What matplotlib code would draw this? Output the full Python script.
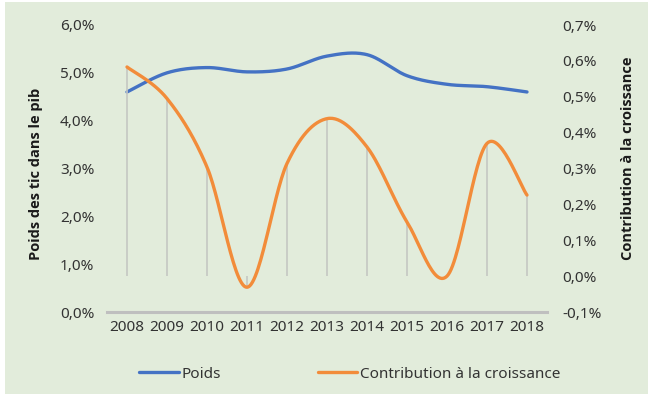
import numpy as np
import matplotlib.pyplot as plt
from matplotlib.ticker import FuncFormatter
from matplotlib.patches import Rectangle

plt.rcParams['font.family'] = ['Noto Sans', 'DejaVu Sans']

years = ['2008', '2009', '2010', '2011', '2012', '2013', '2014', '2015', '2016', '2017', '2018']
poids = [4.60, 5.00, 5.11, 5.02, 5.08, 5.35, 5.38, 4.94, 4.76, 4.71, 4.60]
contribution = [0.583, 0.495, 0.304, -0.031, 0.314, 0.439, 0.360, 0.151, 0.0, 0.370, 0.226]

BLUE = '#4472C4'
ORANGE = '#F28C3A'
BG = '#E2ECDB'


def smooth(x, y, n=30):
    # Catmull-Rom style curve through every point (like a spreadsheet "smoothed line")
    x = np.asarray(x, float)
    y = np.asarray(y, float)
    px = np.concatenate([[x[0]], x, [x[-1]]])
    py = np.concatenate([[y[0]], y, [y[-1]]])
    xs, ys = [], []
    t = np.linspace(0, 1, n)
    for i in range(1, len(px) - 2):
        p0, p1, p2, p3 = [np.array([px[j], py[j]]) for j in (i - 1, i, i + 1, i + 2)]
        c1 = p1 + (p2 - p0) / 6
        c2 = p2 - (p3 - p1) / 6
        b = ((1 - t) ** 3)[:, None] * p1 + (3 * (1 - t) ** 2 * t)[:, None] * c1 \
            + (3 * (1 - t) * t ** 2)[:, None] * c2 + (t ** 3)[:, None] * p2
        xs.append(b[:, 0])
        ys.append(b[:, 1])
    return np.concatenate(xs), np.concatenate(ys)


fig = plt.figure(figsize=(6.51, 3.94), dpi=100, facecolor='white')
fig.patches.append(Rectangle((5 / 651, 0), 643 / 651, 392 / 394, transform=fig.transFigure,
                             facecolor=BG, edgecolor='none', zorder=-10))

ax = fig.add_axes([107 / 651, 1 - 312 / 394, 440 / 651, 287 / 394])
ax2 = ax.twinx()
for a in (ax, ax2):
    a.set_facecolor('none')
    for s in a.spines.values():
        s.set_visible(False)

x = np.arange(len(years))

# drop lines from the contribution points to zero
ax2.vlines(x, 0, contribution, color='#C4C7C2', lw=1.2, zorder=1)

sx, sy = smooth(x, poids)
ax.plot(sx, sy, color=BLUE, lw=2.4, solid_capstyle='round', label='Poids')
sx, sy = smooth(x, contribution)
ax2.plot(sx, sy, color=ORANGE, lw=2.4, solid_capstyle='round', label='Contribution à la croissance')

ax.set_xlim(-0.5, len(years) - 0.5)
ax.set_ylim(0, 6)
ax2.set_ylim(-0.1, 0.7)
ax.set_yticks(np.arange(0, 6.1, 1))
ax2.set_yticks(np.arange(-0.1, 0.71, 0.1))
ax.set_xticks(x)
ax.set_xticklabels(years)

ax.yaxis.set_major_formatter(FuncFormatter(lambda v, p: f'{v:.1f}%'.replace('.', ',')))
ax2.yaxis.set_major_formatter(FuncFormatter(lambda v, p: f'{v:.1f}%'.replace('.', ',').replace('-0,0', '0,0')))

ax.axhline(0, color='#BFBFBF', lw=2.2, clip_on=False, zorder=0)

for a in (ax, ax2):
    a.tick_params(axis='both', length=0, labelsize=11, colors='#333333')
ax.tick_params(axis='y', pad=9)
ax2.tick_params(axis='y', pad=11)
ax.tick_params(axis='x', pad=6)

title_font = dict(rotation=90, fontsize=10.5, fontweight='bold', color='#1a1a1a',
                  ha='center', va='center', family=['Open Sans', 'DejaVu Sans'])
fig.text(36 / 651, 1 - 174 / 394, 'Poids des tic dans le pib', **title_font)
fig.text(628 / 651, 1 - 158 / 394, 'Contribution à la croissance', **title_font)

h1, l1 = ax.get_legend_handles_labels()
h2, l2 = ax2.get_legend_handles_labels()
fig.legend(h1 + h2, l1 + l2, loc='center', bbox_to_anchor=(350 / 651, 1 - 374 / 394), ncol=2,
           frameon=False, fontsize=11, handlelength=2.6, handletextpad=0.2, columnspacing=6.3,
           labelcolor='#333333')

fig.savefig('out.png', dpi=100, facecolor=fig.get_facecolor())
